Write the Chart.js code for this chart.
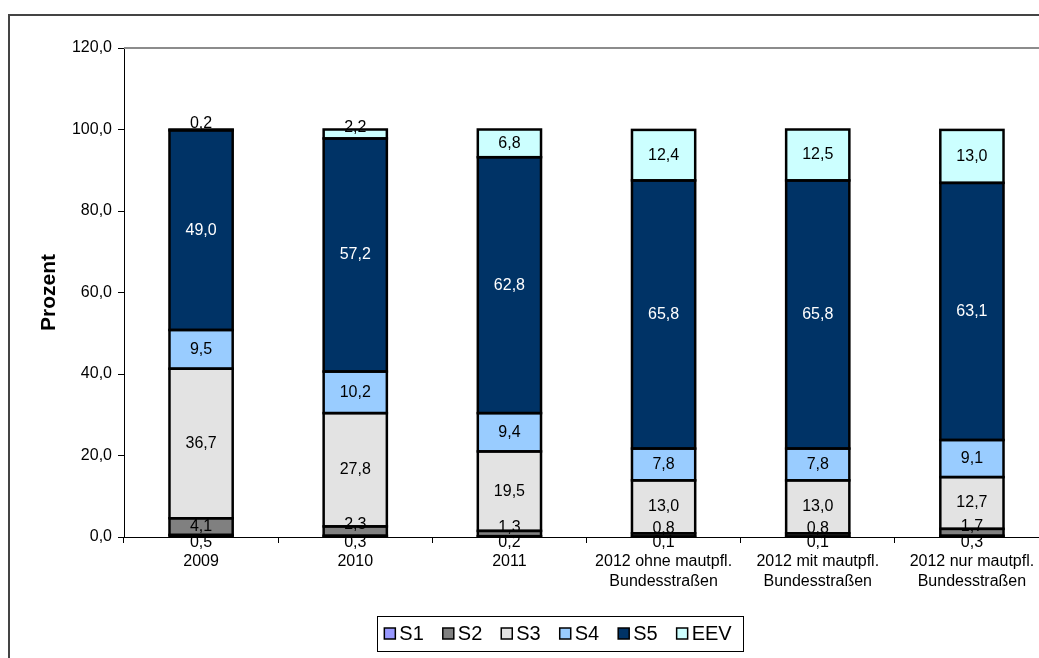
<!DOCTYPE html>
<html>
<head>
<meta charset="utf-8">
<script src="https://cdn.jsdelivr.net/npm/chart.js@4"></script>
<style>
  html, body { margin: 0; padding: 0; background: #fff; overflow: hidden; width: 1039px; height: 658px; }
  #frame { position: absolute; left: 8px; top: 14px; width: 1200px; height: 1000px; border: 2px solid #444; box-sizing: border-box; }
  #wrap { position: absolute; left: 0; top: 0; width: 1100px; height: 658px; }
</style>
</head>
<body>
<div id="frame"></div>
<div id="wrap"><canvas id="myChart" width="1100" height="658"></canvas></div>
<script>
const categories = [
  "2009",
  "2010",
  "2011",
  ["2012 ohne mautpfl.", "Bundesstraßen"],
  ["2012 mit mautpfl.", "Bundesstraßen"],
  ["2012 nur mautpfl.", "Bundesstraßen"],
];
const s1 = [0.5, 0.3, 0.2, 0.1, 0.1, 0.3];
const s2 = [4.1, 2.3, 1.3, 0.8, 0.8, 1.7];
const s3 = [36.7, 27.8, 19.5, 13.0, 13.0, 12.7];
const s4 = [9.5, 10.2, 9.4, 7.8, 7.8, 9.1];
const s5 = [49.0, 57.2, 62.8, 65.8, 65.8, 63.1];
const eev = [0.2, 2.2, 6.8, 12.4, 12.5, 13.0];
const yTicks = [0, 20, 40, 60, 80, 100, 120];

const FONT = "'Liberation Sans', Arial, sans-serif";

function fmt(v) {
  return v.toFixed(1).replace(".", ",");
}

function makeSet(label, data, color, textColor) {
  return {
    label: label,
    data: data,
    backgroundColor: color,
    borderWidth: 0,
    labelColor: textColor,
    barPercentage: 0.41,
    categoryPercentage: 1.0,
  };
}

// black outlines shared between stacked segments, then the value labels
const segmentsAndLabels = {
  id: "segmentsAndLabels",
  afterDatasetsDraw(chart) {
    const ctx = chart.ctx;
    ctx.save();
    ctx.strokeStyle = "#000";
    ctx.lineWidth = 2.5;
    chart.data.datasets.forEach((ds, i) => {
      chart.getDatasetMeta(i).data.forEach((bar) => {
        const p = bar.getProps(["x", "y", "base", "width"], true);
        ctx.strokeRect(p.x - p.width / 2, p.y, p.width, p.base - p.y);
      });
    });
    ctx.font = "16px " + FONT;
    ctx.textAlign = "center";
    ctx.textBaseline = "middle";
    chart.data.datasets.forEach((ds, i) => {
      chart.getDatasetMeta(i).data.forEach((bar, j) => {
        const h = bar.base - bar.y;
        let y = (bar.y + bar.base) / 2;
        if (h < 14) {
          y = i === 0 ? bar.base + 6 : y - 6;
        }
        ctx.fillStyle = ds.labelColor;
        ctx.fillText(fmt(ds.data[j]), bar.x, y);
      });
    });
    ctx.restore();
  },
};

// grey top border of the plot area
const plotTop = {
  id: "plotTop",
  beforeDatasetsDraw(chart) {
    const { ctx, chartArea } = chart;
    ctx.save();
    ctx.strokeStyle = "#8c8c8c";
    ctx.lineWidth = 2;
    ctx.beginPath();
    ctx.moveTo(chartArea.left, chartArea.top);
    ctx.lineTo(chart.width, chartArea.top);
    ctx.stroke();
    ctx.restore();
  },
};

// boxed legend below the chart
const boxLegend = {
  id: "boxLegend",
  afterDraw(chart) {
    const ctx = chart.ctx;
    const centerX = 558;
    const top = 616, bottom = 651;
    const sq = 11, gap = 4, spacing = 19;
    ctx.save();
    ctx.font = "20px " + FONT;
    ctx.textBaseline = "middle";
    const items = chart.data.datasets.map((ds) => ({
      label: ds.label,
      color: ds.backgroundColor,
      w: sq + gap + ctx.measureText(ds.label).width,
    }));
    const total = items.reduce((a, it) => a + it.w, 0) + spacing * (items.length - 1);
    const padL = 7, padR = 12;
    const left = centerX - total / 2 - padL;
    ctx.strokeStyle = "#000";
    ctx.lineWidth = 1;
    ctx.strokeRect(Math.round(left) + 0.5, top + 0.5, Math.round(total + padL + padR), bottom - top);
    let x = centerX - total / 2;
    const cy = (top + bottom) / 2;
    items.forEach((it) => {
      ctx.fillStyle = it.color;
      ctx.fillRect(x, cy - sq / 2, sq, sq);
      ctx.lineWidth = 1.5;
      ctx.strokeRect(x, cy - sq / 2, sq, sq);
      ctx.fillStyle = "#000";
      ctx.fillText(it.label, x + sq + gap, cy + 1);
      x += it.w + spacing;
    });
    ctx.restore();
  },
};

const ctx = document.getElementById("myChart").getContext("2d");
new Chart(ctx, {
  type: "bar",
  data: {
    labels: categories,
    datasets: [
      makeSet("S1", s1, "#9999FF", "#000"),
      makeSet("S2", s2, "#808080", "#000"),
      makeSet("S3", s3, "#E3E3E3", "#000"),
      makeSet("S4", s4, "#99CCFF", "#000"),
      makeSet("S5", s5, "#003366", "#fff"),
      makeSet("EEV", eev, "#CCFFFF", "#000"),
    ],
  },
  options: {
    responsive: false,
    animation: false,
    layout: { padding: { left: 0, top: 48, right: 51, bottom: 0 } },
    plugins: {
      legend: { display: false },
      tooltip: { enabled: false },
    },
    scales: {
      x: {
        stacked: true,
        offset: true,
        grid: { offset: true, drawOnChartArea: false, drawTicks: true, tickLength: 6, color: "#000" },
        border: { color: "#000", width: 1 },
        ticks: {
          autoSkip: false,
          maxRotation: 0,
          padding: 9,
          color: "#000",
          font: { family: FONT, size: 16, lineHeight: 1.25 },
        },
        afterFit(scale) { scale.height = 121; },
      },
      y: {
        stacked: true,
        min: 0,
        max: 120,
        afterBuildTicks(scale) { scale.ticks = yTicks.map((v) => ({ value: v })); },
        grid: { drawOnChartArea: false, drawTicks: true, tickLength: 6, color: "#000" },
        border: { color: "#000", width: 1 },
        ticks: {
          padding: 6,
          color: "#000",
          font: { family: FONT, size: 16 },
          callback: (v) => fmt(v),
        },
        title: {
          display: true,
          text: "Prozent",
          color: "#000",
          font: { family: FONT, size: 21, weight: "bold" },
          padding: { top: 37, bottom: 0 },
        },
        afterFit(scale) { scale.width = 124; },
      },
    },
  },
  plugins: [plotTop, segmentsAndLabels, boxLegend],
});
</script>
</body>
</html>
